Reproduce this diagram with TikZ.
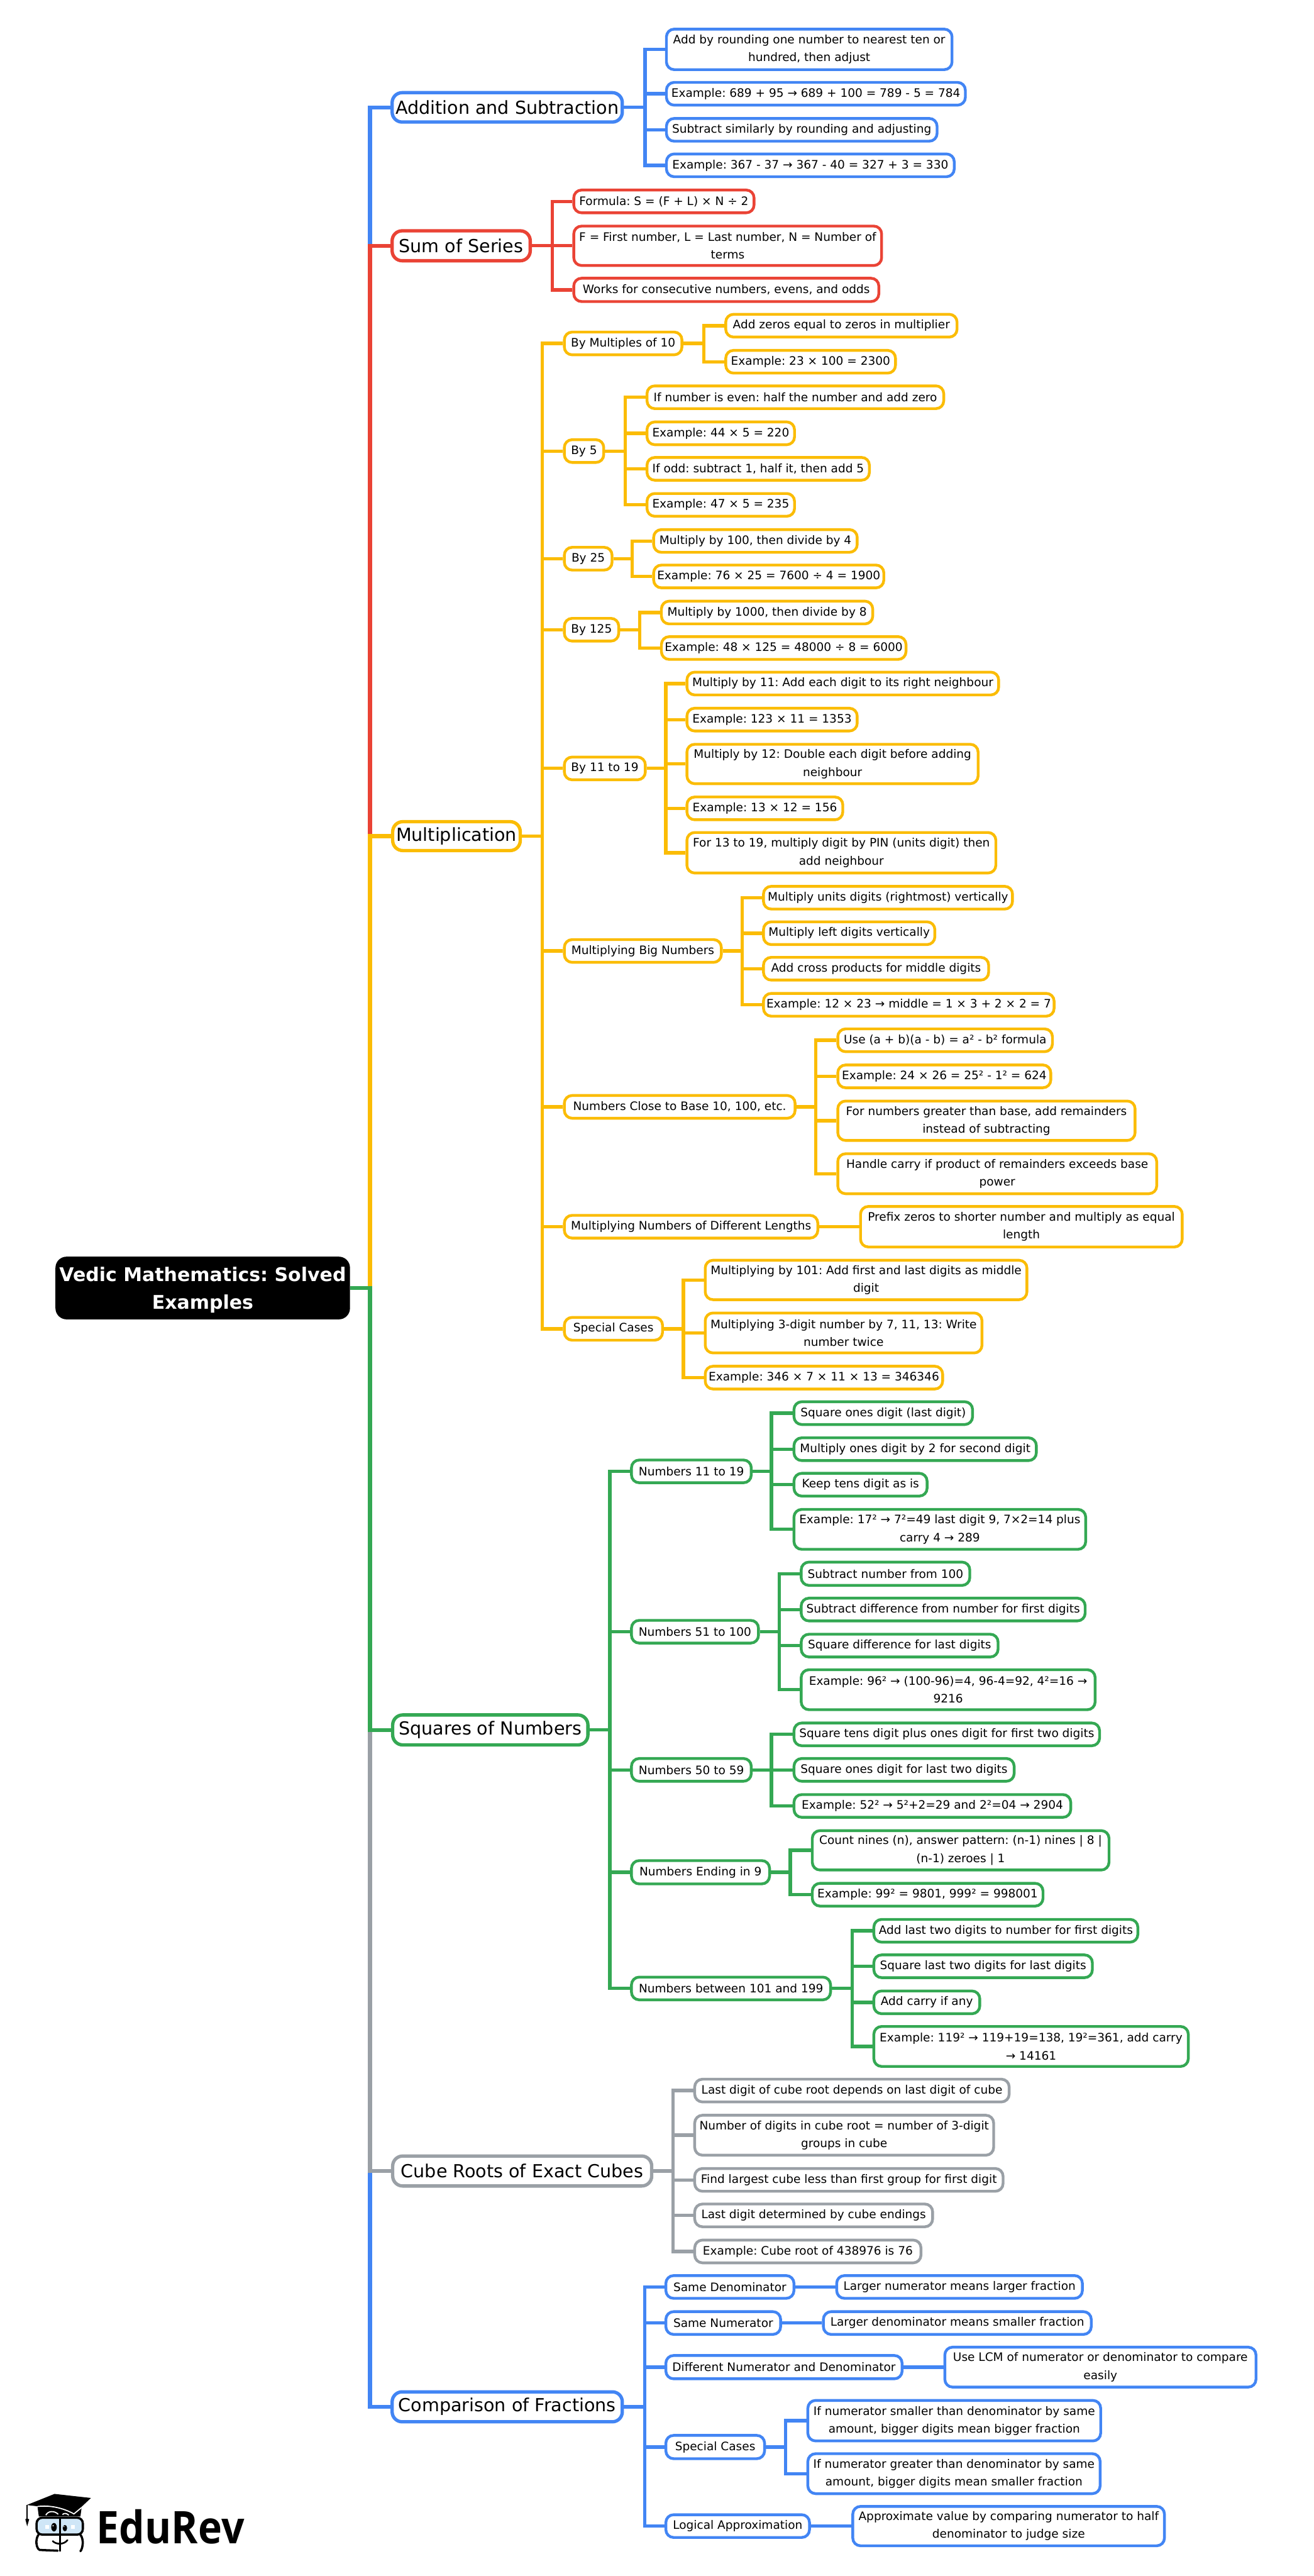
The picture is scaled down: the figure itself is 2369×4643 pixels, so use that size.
\documentclass[tikz,border=0pt]{standalone}
\usepackage{fontspec}
\setmainfont{DejaVu Sans}
\frenchspacing
\newfontfamily\logofont[FakeStretch=0.9]{Open Sans}
\definecolor{cblue}{HTML}{4285F4}
\definecolor{cred}{HTML}{EA4335}
\definecolor{cyel}{HTML}{FBBC04}
\definecolor{cgrn}{HTML}{34A853}
\definecolor{cgry}{HTML}{9AA0A6}
\definecolor{cglass}{HTML}{CFE6F7}
\tikzset{
  leafbox/.style={draw,fill=white,rounded corners=7pt,line width=2.5pt,inner sep=0pt,align=center,text=black,
    font=\fontsize{10.5}{16}\selectfont},
  mainbox/.style={draw,fill=white,rounded corners=9pt,line width=3pt,inner sep=0pt,align=center,text=black,
    font=\fontsize{16.2}{24}\selectfont},
  rootbox/.style={fill=black,rounded corners=10pt,inner sep=0pt,align=center,text=white,
    font=\fontsize{17}{25}\selectfont\bfseries},
  conn/.style={line width=3pt,line join=miter},
  trunkconn/.style={line width=3.5pt,line join=miter},
}
% name, colour, x1, y1, x2, y2, text  (outer edges, reference pixels)
\newcommand{\lbx}[7]{\node[leafbox,draw=#2,minimum width={(#5-#3)*0.5pt-2.5pt},minimum height={(#6-#4)*0.5pt-2.5pt}] (#1) at ({(#3+#5)/2},{(#4+#6)/2}) {#7};}
\newcommand{\mbx}[7]{\node[mainbox,draw=#2,minimum width={(#5-#3)*0.5pt-3pt},minimum height={(#6-#4)*0.5pt-3pt}] (#1) at ({(#3+#5)/2},{(#4+#6)/2}) {#7};}
% colour, parent, trunk x, child
\newcommand{\edg}[4]{\path (#3,0) coordinate (tk); \draw[conn,#1] (#2.east) -- (#2.east -| tk) |- (#4.west);}
\newcommand{\edt}[4]{\path (#3,0) coordinate (tk); \draw[trunkconn,#1] (#2.east) -- (#2.east -| tk) |- (#4.west);}
\newcommand{\edd}[3]{\draw[conn,#1] (#2.east) -- (#3.west);}
\begin{document}
\begin{tikzpicture}[x=0.5pt,y=-0.5pt]
\useasboundingbox (0,0) rectangle (2369,4643);
\fill[white] (0,0) rectangle (2369,4643);
\node[rootbox,minimum width=265.5pt,minimum height=56.5pt] (root) at (365.5,2321.5) {\rule{0pt}{17pt}Vedic Mathematics: Solved\\Examples};

% Addition
\mbx{add}{cblue}{704}{164}{1125}{223}{Addition and Subtraction}
\lbx{a1}{cblue}{1199}{50}{1719}{128}{Add by rounding one number to nearest ten or\\hundred, then adjust}
\lbx{a2}{cblue}{1199}{146}{1743}{192}{Example: 689 + 95 → 689 + 100 = 789 - 5 = 784}
\lbx{a3}{cblue}{1199}{211}{1692}{257}{Subtract similarly by rounding and adjusting}
\lbx{a4}{cblue}{1199}{275}{1723}{321}{Example: 367 - 37 → 367 - 40 = 327 + 3 = 330}

% Sum
\mbx{sum}{cred}{704}{413}{959}{473}{Sum of Series}
\lbx{s1}{cred}{1032}{340}{1362}{386}{Formula: S = (F + L) × N ÷ 2}
\lbx{s2}{cred}{1032}{405}{1592}{481}{F = First number, L = Last number, N = Number of\\terms}
\lbx{s3}{cred}{1032}{499}{1587}{546}{Works for consecutive numbers, evens, and odds}

% Multiplication
\mbx{mul}{cyel}{705}{1478}{941}{1536}{Multiplication}
\lbx{m1}{cyel}{1015}{596}{1232}{642}{By Multiples of 10}
\lbx{m1a}{cyel}{1306}{564}{1728}{610}{Add zeros equal to zeros in multiplier}
\lbx{m1b}{cyel}{1306}{629}{1617}{675}{Example: 23 × 100 = 2300}
\lbx{m2}{cyel}{1015}{790}{1091}{836}{By 5}
\lbx{m2a}{cyel}{1164}{693}{1704}{739}{If number is even: half the number and add zero}
\lbx{m2b}{cyel}{1164}{758}{1435}{804}{Example: 44 × 5 = 220}
\lbx{m2c}{cyel}{1164}{822}{1570}{868}{If odd: subtract 1, half it, then add 5}
\lbx{m2d}{cyel}{1164}{887}{1435}{933}{Example: 47 × 5 = 235}
\lbx{m3}{cyel}{1015}{984}{1106}{1030}{By 25}
\lbx{m3a}{cyel}{1176}{952}{1548}{998}{Multiply by 100, then divide by 4}
\lbx{m3b}{cyel}{1176}{1016}{1596}{1062}{Example: 76 × 25 = 7600 ÷ 4 = 1900}
\lbx{m4}{cyel}{1015}{1112}{1118}{1158}{By 125}
\lbx{m4a}{cyel}{1190}{1081}{1576}{1127}{Multiply by 1000, then divide by 8}
\lbx{m4b}{cyel}{1190}{1145}{1636}{1191}{Example: 48 × 125 = 48000 ÷ 8 = 6000}
\lbx{m5}{cyel}{1015}{1362}{1166}{1408}{By 11 to 19}
\lbx{m5a}{cyel}{1236}{1209}{1803}{1255}{Multiply by 11: Add each digit to its right neighbour}
\lbx{m5b}{cyel}{1236}{1274}{1548}{1320}{Example: 123 × 11 = 1353}
\lbx{m5c}{cyel}{1236}{1339}{1766}{1415}{Multiply by 12: Double each digit before adding\\neighbour}
\lbx{m5d}{cyel}{1236}{1434}{1522}{1480}{Example: 13 × 12 = 156}
\lbx{m5e}{cyel}{1236}{1498}{1798}{1576}{For 13 to 19, multiply digit by PIN (units digit) then\\add neighbour}
\lbx{m6}{cyel}{1015}{1691}{1303}{1737}{Multiplying Big Numbers}
\lbx{m6a}{cyel}{1374}{1595}{1828}{1641}{Multiply units digits (rightmost) vertically}
\lbx{m6b}{cyel}{1374}{1659}{1688}{1705}{Multiply left digits vertically}
\lbx{m6c}{cyel}{1374}{1723}{1785}{1769}{Add cross products for middle digits}
\lbx{m6d}{cyel}{1374}{1788}{1903}{1834}{Example: 12 × 23 → middle = 1 × 3 + 2 × 2 = 7}
\lbx{m7}{cyel}{1015}{1972}{1436}{2018}{Numbers Close to Base 10, 100, etc.}
\lbx{m7a}{cyel}{1508}{1852}{1900}{1898}{Use (a + b)(a - b) = a² - b² formula}
\lbx{m7b}{cyel}{1508}{1917}{1897}{1963}{Example: 24 × 26 = 25² - 1² = 624}
\lbx{m7c}{cyel}{1508}{1982}{2049}{2058}{For numbers greater than base, add remainders\\instead of subtracting}
\lbx{m7d}{cyel}{1508}{2077}{2088}{2154}{Handle carry if product of remainders exceeds base\\power}
\lbx{m8}{cyel}{1015}{2188}{1477}{2234}{Multiplying Numbers of Different Lengths}
\lbx{m8a}{cyel}{1549}{2172}{2134}{2250}{Prefix zeros to shorter number and multiply as equal\\length}
\lbx{m9}{cyel}{1015}{2372}{1197}{2418}{Special Cases}
\lbx{m9a}{cyel}{1269}{2269}{1854}{2345}{Multiplying by 101: Add first and last digits as middle\\digit}
\lbx{m9b}{cyel}{1269}{2364}{1773}{2441}{Multiplying 3-digit number by 7, 11, 13: Write\\number twice}
\lbx{m9c}{cyel}{1269}{2460}{1702}{2506}{Example: 346 × 7 × 11 × 13 = 346346}

% Squares
\mbx{sq}{cgrn}{705}{3088}{1063}{3148}{Squares of Numbers}
\lbx{q1}{cgrn}{1136}{2629}{1357}{2675}{Numbers 11 to 19}
\lbx{q1a}{cgrn}{1429}{2524}{1756}{2570}{Square ones digit (last digit)}
\lbx{q1b}{cgrn}{1429}{2589}{1871}{2635}{Multiply ones digit by 2 for second digit}
\lbx{q1c}{cgrn}{1429}{2653}{1674}{2699}{Keep tens digit as is}
\lbx{q1d}{cgrn}{1429}{2718}{1960}{2795}{Example: 17² → 7²=49 last digit 9, 7×2=14 plus\\carry 4 → 289}
\lbx{q2}{cgrn}{1136}{2918}{1370}{2964}{Numbers 51 to 100}
\lbx{q2a}{cgrn}{1442}{2813}{1751}{2860}{Subtract number from 100}
\lbx{q2b}{cgrn}{1442}{2878}{1959}{2924}{Subtract difference from number for first digits}
\lbx{q2c}{cgrn}{1442}{2943}{1802}{2989}{Square difference for last digits}
\lbx{q2d}{cgrn}{1442}{3007}{1977}{3084}{Example: 96² → (100-96)=4, 96-4=92, 4²=16 →\\9216}
\lbx{q3}{cgrn}{1136}{3167}{1357}{3213}{Numbers 50 to 59}
\lbx{q3a}{cgrn}{1429}{3103}{1985}{3149}{Square tens digit plus ones digit for first two digits}
\lbx{q3b}{cgrn}{1429}{3167}{1831}{3213}{Square ones digit for last two digits}
\lbx{q3c}{cgrn}{1429}{3232}{1933}{3278}{Example: 52² → 5²+2=29 and 2²=04 → 2904}
\lbx{q4}{cgrn}{1136}{3351}{1390}{3398}{Numbers Ending in 9}
\lbx{q4a}{cgrn}{1462}{3297}{2002}{3373}{Count nines (n), answer pattern: (n-1) nines | 8 |\\(n-1) zeroes | 1}
\lbx{q4b}{cgrn}{1462}{3392}{1883}{3438}{Example: 99² = 9801, 999² = 998001}
\lbx{q5}{cgrn}{1136}{3561}{1500}{3607}{Numbers between 101 and 199}
\lbx{q5a}{cgrn}{1573}{3457}{2054}{3503}{Add last two digits to number for first digits}
\lbx{q5b}{cgrn}{1573}{3521}{1972}{3567}{Square last two digits for last digits}
\lbx{q5c}{cgrn}{1573}{3586}{1769}{3632}{Add carry if any}
\lbx{q5d}{cgrn}{1573}{3650}{2145}{3727}{Example: 119² → 119+19=138, 19²=361, add carry\\→ 14161}

% Cube roots
\mbx{cu}{cgry}{705}{3883}{1178}{3943}{Cube Roots of Exact Cubes}
\lbx{c1}{cgry}{1250}{3745}{1822}{3791}{Last digit of cube root depends on last digit of cube}
\lbx{c2}{cgry}{1250}{3810}{1794}{3887}{Number of digits in cube root = number of 3-digit\\groups in cube}
\lbx{c3}{cgry}{1250}{3906}{1811}{3952}{Find largest cube less than first group for first digit}
\lbx{c4}{cgry}{1250}{3970}{1684}{4016}{Last digit determined by cube endings}
\lbx{c5}{cgry}{1250}{4035}{1663}{4081}{Example: Cube root of 438976 is 76}

% Comparison
\mbx{cp}{cblue}{704}{4308}{1125}{4368}{Comparison of Fractions}
\lbx{f1}{cblue}{1198}{4099}{1434}{4145}{Same Denominator}
\lbx{f1a}{cblue}{1506}{4099}{1954}{4145}{Larger numerator means larger fraction}
\lbx{f2}{cblue}{1198}{4164}{1410}{4210}{Same Numerator}
\lbx{f2a}{cblue}{1482}{4164}{1970}{4210}{Larger denominator means smaller fraction}
\lbx{f3}{cblue}{1198}{4243}{1629}{4290}{Different Numerator and Denominator}
\lbx{f3a}{cblue}{1701}{4228}{2267}{4305}{Use LCM of numerator or denominator to compare\\easily}
\lbx{f4}{cblue}{1198}{4387}{1381}{4434}{Special Cases}
\lbx{f4a}{cblue}{1454}{4324}{1987}{4402}{If numerator smaller than denominator by same\\amount, bigger digits mean bigger fraction}
\lbx{f4b}{cblue}{1454}{4420}{1986}{4497}{If numerator greater than denominator by same\\amount, bigger digits mean smaller fraction}
\lbx{f5}{cblue}{1198}{4530}{1462}{4576}{Logical Approximation}
\lbx{f5a}{cblue}{1535}{4515}{2102}{4591}{Approximate value by comparing numerator to half\\denominator to judge size}

% trunk connectors (draw order gives the colour stacking)
\edt{cblue}{root}{667}{add}
\edt{cred}{root}{667}{sum}
\edt{cyel}{root}{667}{mul}
\edt{cblue}{root}{667}{cp}
\edt{cgry}{root}{667}{cu}
\edt{cgrn}{root}{667}{sq}

\foreach \c in {a1,a2,a3,a4}{\edg{cblue}{add}{1163}{\c}}
\foreach \c in {s1,s2,s3}{\edg{cred}{sum}{995.5}{\c}}
\foreach \c in {m1,m2,m3,m4,m5,m6,m7,m8,m9}{\edg{cyel}{mul}{978}{\c}}
\foreach \c in {m1a,m1b}{\edg{cyel}{m1}{1269}{\c}}
\foreach \c in {m2a,m2b,m2c,m2d}{\edg{cyel}{m2}{1127.5}{\c}}
\foreach \c in {m3a,m3b}{\edg{cyel}{m3}{1140}{\c}}
\foreach \c in {m4a,m4b}{\edg{cyel}{m4}{1153}{\c}}
\foreach \c in {m5a,m5b,m5c,m5d,m5e}{\edg{cyel}{m5}{1200.5}{\c}}
\foreach \c in {m6a,m6b,m6c,m6d}{\edg{cyel}{m6}{1338}{\c}}
\foreach \c in {m7a,m7b,m7c,m7d}{\edg{cyel}{m7}{1471}{\c}}
\edd{cyel}{m8}{m8a}
\foreach \c in {m9a,m9b,m9c}{\edg{cyel}{m9}{1232}{\c}}
\foreach \c in {q1,q2,q3,q4,q5}{\edg{cgrn}{sq}{1099.5}{\c}}
\foreach \c in {q1a,q1b,q1c,q1d}{\edg{cgrn}{q1}{1391}{\c}}
\foreach \c in {q2a,q2b,q2c,q2d}{\edg{cgrn}{q2}{1405}{\c}}
\foreach \c in {q3a,q3b,q3c}{\edg{cgrn}{q3}{1391}{\c}}
\foreach \c in {q4a,q4b}{\edg{cgrn}{q4}{1425}{\c}}
\foreach \c in {q5a,q5b,q5c,q5d}{\edg{cgrn}{q5}{1536.5}{\c}}
\foreach \c in {c1,c2,c3,c4,c5}{\edg{cgry}{cu}{1213.5}{\c}}
\foreach \c in {f1,f2,f3,f4,f5}{\edg{cblue}{cp}{1162.5}{\c}}
\edd{cblue}{f1}{f1a}
\edd{cblue}{f2}{f2a}
\edd{cblue}{f3}{f3a}
\foreach \c in {f4a,f4b}{\edg{cblue}{f4}{1416.5}{\c}}
\edd{cblue}{f5}{f5a}

% logo
\node[anchor=base west,inner sep=0pt,font=\logofont\fontsize{40.5}{40}\selectfont\bfseries] (logo) at (174,4585) {EduRev};
\begin{scope}[shift={(30,4470)},x=0.16667pt,y=-0.16667pt]
  \fill[black] (113,145) -- (120,197) -- (345,197) -- (352,145) -- cycle;
  \fill[black] (55,135) -- (205,75) -- (402,97) -- (310,183) -- (225,150) -- (170,140) -- (115,142) -- cycle;
  \draw[white,line width=1pt] (113,143) .. controls (180,135) and (250,150) .. (310,183) -- (352,148);
  \draw[white,line width=1pt] (158,190) .. controls (170,165) and (205,165) .. (225,185);
  \draw[white,line width=1pt] (248,187) .. controls (255,178) and (270,178) .. (282,190);
  \draw[black,line width=1pt] (55,135) -- (55,208);
  \fill[black] (47,212) -- (55,207) -- (68,212) -- (57,250) -- cycle;
  \draw[black,fill=cglass,line width=2pt,rounded corners=5pt] (108,204) rectangle (358,295);
  \fill[black] (202,255) ellipse [x radius=15,y radius=23];
  \fill[black] (261,260) ellipse [x radius=12,y radius=17];
  \fill[white] (197,247) circle (4);
  \fill[white] (256,252) circle (3);
  \fill[white] (155,243) rectangle (175,263);
  \fill[white] (293,243) rectangle (313,263);
  \draw[black,line width=2pt,line cap=round] (118,296) .. controls (100,320) and (105,370) .. (125,378) -- (222,382);
  \draw[black,line width=2pt,line cap=round] (345,296) .. controls (365,320) and (358,370) .. (345,385);
  \draw[black,line width=1.5pt,line cap=round] (195,330) .. controls (215,350) and (255,350) .. (275,325);
  \draw[black,line width=2pt] (234,200) -- (234,387);
\end{scope}
\end{tikzpicture}
\end{document}
